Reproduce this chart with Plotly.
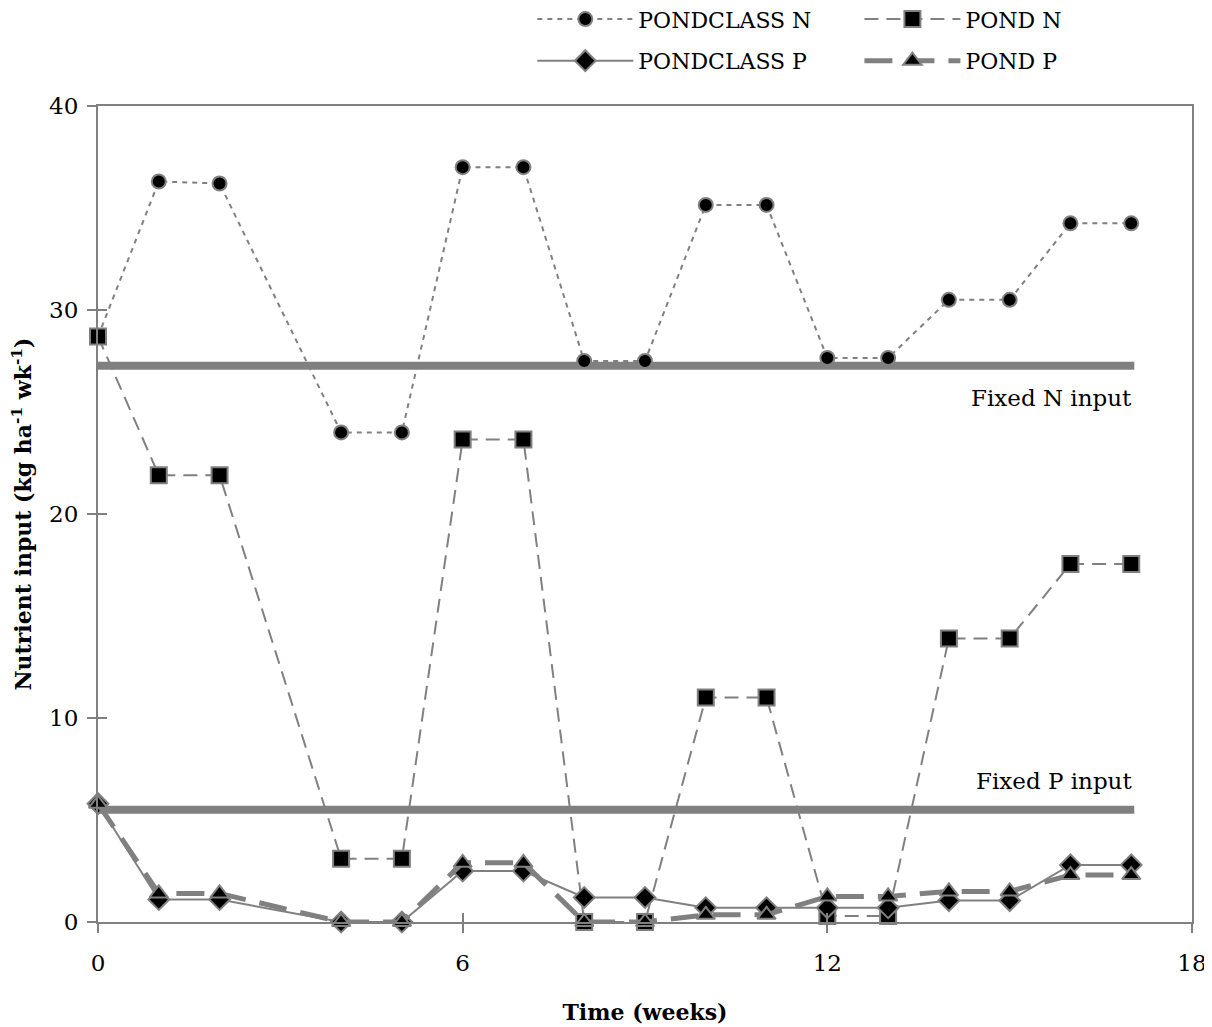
import plotly.graph_objects as go

weeks = [0, 1, 2, 4, 5, 6, 7, 8, 9, 10, 11, 12, 13, 14, 15, 16, 17]
pondclass_n = [28.7, 36.3, 36.2, 24.0, 24.0, 37.0, 37.0, 27.5, 27.5, 35.15, 35.15, 27.65, 27.65, 30.5, 30.5, 34.25, 34.25]
pond_n = [28.7, 21.9, 21.9, 3.1, 3.1, 23.65, 23.65, 0.0, 0.0, 11.0, 11.0, 0.3, 0.3, 13.9, 13.9, 17.55, 17.55]
pondclass_p = [5.8, 1.1, 1.1, 0.0, 0.0, 2.5, 2.5, 1.2, 1.2, 0.7, 0.7, 0.7, 0.7, 1.05, 1.05, 2.8, 2.8]
pond_p = [5.8, 1.4, 1.4, 0.0, 0.0, 2.9, 2.9, 0.0, 0.0, 0.35, 0.35, 1.25, 1.25, 1.5, 1.5, 2.3, 2.3]

fixed_x = [-0.05, 17.05]
fixed_n = 27.27
fixed_p = 5.5

x_ticks = [0, 6, 12, 18]
y_ticks = [0, 10, 20, 30, 40]

GRAY = "#808080"
FONT = "DejaVu Serif"

fig = go.Figure()

# fixed input lines
fig.add_trace(go.Scatter(x=fixed_x, y=[fixed_n, fixed_n], mode="lines",
                         line=dict(color=GRAY, width=8), showlegend=False, hoverinfo="skip",
                         cliponaxis=False))
fig.add_trace(go.Scatter(x=fixed_x, y=[fixed_p, fixed_p], mode="lines",
                         line=dict(color=GRAY, width=8), showlegend=False, hoverinfo="skip",
                         cliponaxis=False))

mk_line = dict(color=GRAY, width=2)

fig.add_trace(go.Scatter(x=weeks, y=pondclass_n, name="PONDCLASS N", mode="lines+markers",
                         line=dict(color=GRAY, width=2, dash="5px,5px"),
                         marker=dict(symbol="circle", size=14, color="black", line=mk_line),
                         cliponaxis=False, legend="legend", legendgroup="a"))
fig.add_trace(go.Scatter(x=weeks, y=pond_n, name="POND N", mode="lines+markers",
                         line=dict(color=GRAY, width=2, dash="14px,8px"),
                         marker=dict(symbol="square", size=16, color="black", line=mk_line),
                         cliponaxis=False, legend="legend2", legendgroup="b"))
fig.add_trace(go.Scatter(x=weeks, y=pondclass_p, name="PONDCLASS P", mode="lines+markers",
                         line=dict(color=GRAY, width=2),
                         marker=dict(symbol="diamond", size=16, color="black", line=mk_line),
                         cliponaxis=False, legend="legend", legendgroup="c"))
fig.add_trace(go.Scatter(x=weeks, y=pond_p, name="POND P", mode="lines+markers",
                         line=dict(color=GRAY, width=5, dash="28px,14px"),
                         marker=dict(symbol="triangle-up", size=16, color="black", line=mk_line),
                         cliponaxis=False, legend="legend2", legendgroup="d"))

# invisible trace on overlay axes (for inside half of crossing ticks)
fig.add_trace(go.Scatter(x=[0, 18], y=[0, 40], mode="markers", marker=dict(opacity=0),
                         xaxis="x2", yaxis="y2", showlegend=False, hoverinfo="skip"))

fig.add_annotation(x=17.05, y=fixed_n, text="Fixed N input", showarrow=False,
                   xanchor="right", yanchor="middle", yshift=-32,
                   font=dict(family=FONT, size=23, color="black"))
fig.add_annotation(x=17.05, y=fixed_p, text="Fixed P input", showarrow=False,
                   xanchor="right", yanchor="middle", yshift=29,
                   font=dict(family=FONT, size=23, color="black"))

axis_common = dict(showgrid=False, zeroline=False, showline=True, linecolor=GRAY, linewidth=2,
                   mirror=True, ticks="outside", ticklen=9, tickwidth=2, tickcolor=GRAY,
                   automargin=False,
                   tickfont=dict(family=FONT, size=23, color="black"))

legend_common = dict(orientation="v", yanchor="top", y=1.132, xanchor="left",
                     bgcolor="rgba(0,0,0,0)", borderwidth=0, itemwidth=96,
                     tracegroupgap=10, font=dict(family=FONT, size=22, color="black"))

fig.update_layout(
    width=1212, height=1027,
    margin=dict(l=90, r=28, t=98, b=113, autoexpand=False),
    paper_bgcolor="white", plot_bgcolor="white",
    font=dict(family=FONT, color="black"),
    xaxis=dict(range=[0, 18], tickvals=x_ticks, ticklabelstandoff=10,
               title=dict(text="<b>Time (weeks)</b>", standoff=30,
                          font=dict(family=FONT, size=22, color="black")),
               **axis_common),
    yaxis=dict(range=[0, 40], tickvals=y_ticks, ticklabelstandoff=4,
               title=dict(text="<b>Nutrient input (kg ha<sup>-1</sup> wk<sup>-1</sup>)</b>", standoff=16,
                          font=dict(family=FONT, size=22, color="black")),
               **axis_common),
    xaxis2=dict(range=[0, 18], tickvals=x_ticks, overlaying="x", anchor="y2",
                ticks="inside", ticklen=9, tickwidth=2, tickcolor=GRAY, automargin=False,
                showticklabels=False, showgrid=False, zeroline=False, showline=False, side="bottom"),
    yaxis2=dict(range=[0, 40], tickvals=y_ticks, overlaying="y", anchor="x2",
                ticks="inside", ticklen=9, tickwidth=2, tickcolor=GRAY, automargin=False,
                showticklabels=False, showgrid=False, zeroline=False, showline=False, side="left"),
    legend=dict(x=0.397, **legend_common),
    legend2=dict(x=0.696, **legend_common),
)

fig.write_html("out.html")
